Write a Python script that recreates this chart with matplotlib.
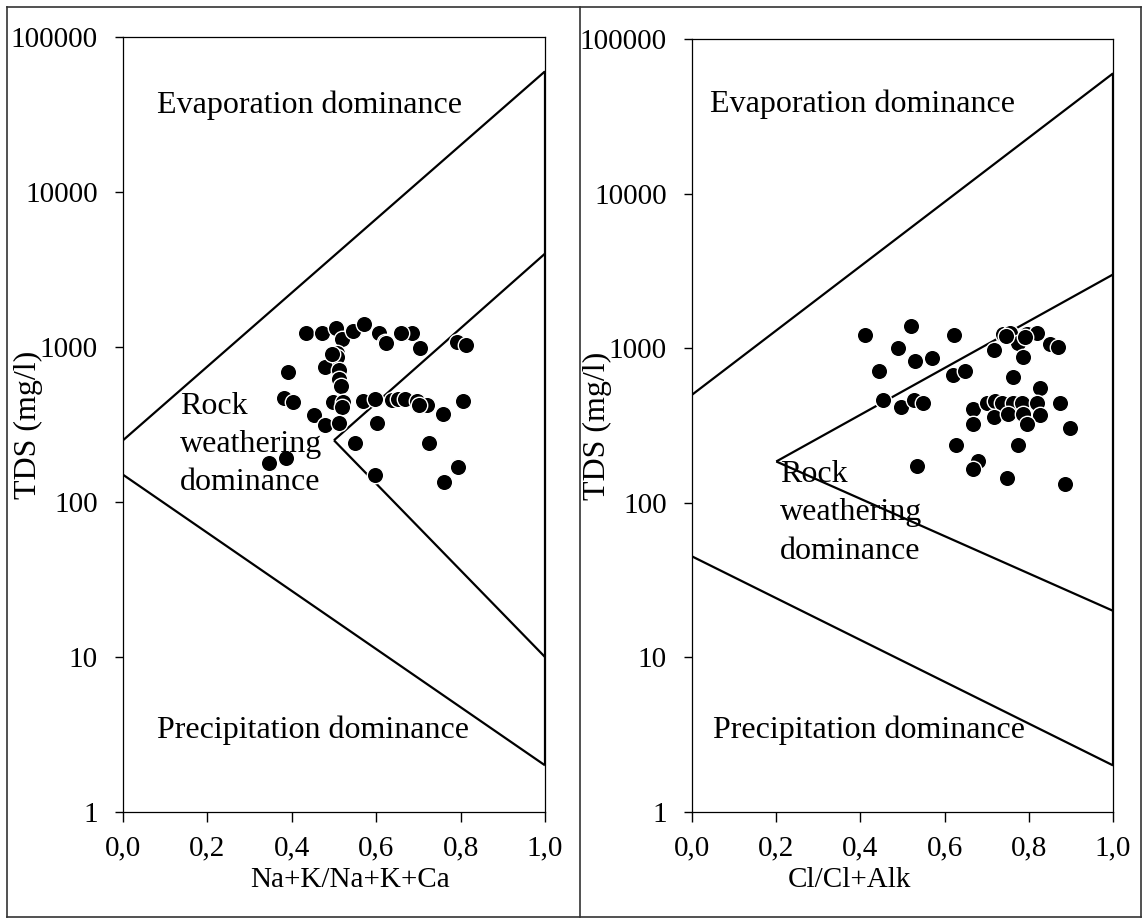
import matplotlib
matplotlib.use("Agg")
import matplotlib.pyplot as plt
from matplotlib.lines import Line2D
from matplotlib.ticker import FixedLocator, FuncFormatter, NullLocator

plt.rcParams['font.family'] = ['Liberation Serif', 'DejaVu Serif']

# cation diagram: Na+K/(Na+K+Ca) vs TDS
cat_ratio = [0.433, 0.471, 0.505, 0.518, 0.544, 0.572, 0.607, 0.621, 0.623, 0.664,
             0.684, 0.704, 0.791, 0.813, 0.506, 0.508, 0.479, 0.511, 0.513, 0.517,
             0.390, 0.382, 0.404, 0.498, 0.522, 0.518, 0.569, 0.597, 0.637, 0.652,
             0.668, 0.696, 0.720, 0.758, 0.806, 0.453, 0.479, 0.512, 0.603, 0.550,
             0.725, 0.347, 0.386, 0.597, 0.795, 0.761, 0.496, 0.659, 0.702]
cat_tds = [1225, 1225, 1321, 1121, 1274, 1407, 1237, 1082, 1057, 1237,
           1237, 981, 1082, 1030, 911, 866, 740, 711, 619, 560,
           687, 467, 440, 444, 444, 412, 450, 460, 455, 462,
           460, 450, 423, 370, 450, 364, 314, 322, 325, 239,
           239, 178, 191, 149, 169, 135, 900, 1230, 420]

# anion diagram: Cl/(Cl+Alk) vs TDS
an_ratio = [0.411, 0.520, 0.621, 0.490, 0.530, 0.569, 0.444, 0.619, 0.648, 0.453,
            0.496, 0.527, 0.548, 0.738, 0.755, 0.775, 0.795, 0.819, 0.849, 0.870,
            0.717, 0.785, 0.763, 0.827, 0.668, 0.700, 0.720, 0.736, 0.763, 0.783,
            0.819, 0.874, 0.717, 0.751, 0.787, 0.827, 0.667, 0.795, 0.898, 0.627,
            0.774, 0.535, 0.679, 0.667, 0.749, 0.886, 0.745, 0.790]
an_tds = [1211, 1390, 1211, 1007, 826, 859, 711, 670, 711, 461,
          418, 461, 439, 1228, 1250, 1086, 1228, 1250, 1069, 1023,
          972, 881, 650, 555, 406, 444, 455, 439, 444, 439,
          439, 444, 360, 373, 373, 367, 321, 321, 306, 235,
          235, 172, 186, 166, 145, 133, 1200, 1180]

# Gibbs boundary lines (x, y)
cat_bounds = [([0, 1], [250, 60000]), ([0, 1], [150, 2]),
              ([0.5, 1], [250, 4000]), ([0.5, 1], [250, 10]), ([1, 1], [2, 60000])]
an_bounds = [([0, 1], [500, 60000]), ([0, 1], [45, 2]),
             ([0.2, 1], [185, 3000]), ([0.2, 1], [185, 20]), ([1, 1], [2, 60000])]

yticks = [1, 10, 100, 1000, 10000, 100000]
xticks = [0, 0.2, 0.4, 0.6, 0.8, 1.0]

fig = plt.figure(figsize=(11.42, 9.18), dpi=100)
ax1 = fig.add_axes([0.1077, 0.1155, 0.3695, 0.8442])
ax2 = fig.add_axes([0.6060, 0.1155, 0.3687, 0.8420])

panels = [
    (ax1, cat_ratio, cat_tds, cat_bounds, 'Na+K/Na+K+Ca', 0.537,
     [(0.08, 36500, 'Evaporation dominance'), (0.08, 3.38, 'Precipitation dominance'),
      (0.135, 235, 'Rock\nweathering\ndominance')]),
    (ax2, an_ratio, an_tds, an_bounds, 'Cl/Cl+Alk', 0.373,
     [(0.043, 37900, 'Evaporation dominance'), (0.05, 3.4, 'Precipitation dominance'),
      (0.209, 86, 'Rock\nweathering\ndominance')]),
]

for ax, xs, ys, bounds, xlab, xlab_pos, notes in panels:
    ax.set_yscale('log')
    ax.set_xlim(0, 1)
    ax.set_ylim(1, 100000)
    for bx, by in bounds:
        ax.plot(bx, by, color='black', lw=1.6, solid_capstyle='butt')
    ax.scatter(xs, ys, s=140, c='black', edgecolors='white', linewidths=1.0, zorder=3)
    for tx, ty, t in notes:
        ax.text(tx, ty, t, fontsize=23, ha='left', va='center', linespacing=1.42)
    ax.yaxis.set_major_locator(FixedLocator(yticks))
    ax.yaxis.set_minor_locator(NullLocator())
    ax.yaxis.set_major_formatter(FuncFormatter(lambda v, p: '%d' % v))
    ax.xaxis.set_major_locator(FixedLocator(xticks))
    ax.xaxis.set_major_formatter(FuncFormatter(lambda v, p: ('%.1f' % v).replace('.', ',')))
    ax.tick_params(axis='y', direction='out', length=6, width=1, labelsize=21, pad=12)
    ax.tick_params(axis='x', direction='out', length=7, width=1, labelsize=21, pad=10)
    for sp in ax.spines.values():
        sp.set_linewidth(0.9)
    ax.set_xlabel(xlab, fontsize=21)
    ax.xaxis.set_label_coords(xlab_pos, -0.071)
    ax.xaxis.label.set_va('top')
    ax.set_ylabel('TDS (mg/l)', fontsize=23)
    ax.yaxis.set_label_coords(-0.19, 0.5)

# frame around both panels
W, H = 1142, 918
def px(x, y):
    return x / W, 1 - y / H

for (x0, y0), (x1, y1) in [((7, 7), (1141, 7)), ((7, 917), (1141, 917)),
                           ((7, 7), (7, 917)), ((580, 7), (580, 917)),
                           ((1141, 7), (1141, 917))]:
    a, b = px(x0, y0)
    c, d = px(x1, y1)
    fig.add_artist(Line2D([a, c], [b, d], transform=fig.transFigure, color='#333333', lw=1.2))

fig.savefig('out.png', dpi=100)
